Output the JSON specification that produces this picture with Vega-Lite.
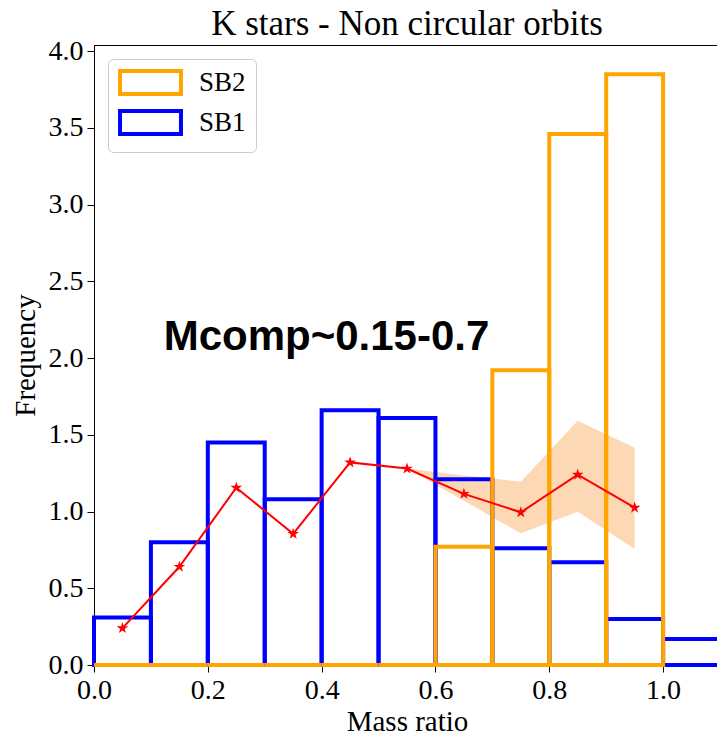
{
  "$schema": "https://vega.github.io/schema/vega-lite/v6.json",
  "autosize": {"type": "none"},
  "padding": {"left": 94, "top": 45, "right": 0, "bottom": 70},
  "width": 626,
  "height": 620,
  "background": "white",
  "title": {"text": "K stars - Non circular orbits", "font": "Liberation Serif", "fontSize": 35, "fontWeight": "normal", "color": "black", "anchor": "middle", "offset": -5},
  "config": {
    "view": {"stroke": "black", "strokeWidth": 1},
    "axis": {"labelFont": "Liberation Serif", "labelFontSize": 28, "labelColor": "black", "titleFont": "Liberation Serif", "titleFontSize": 29, "titleFontWeight": "normal", "titleColor": "black", "domainColor": "black", "tickColor": "black", "tickSize": 7, "grid": false, "labelPadding": 4, "labelFlush": false}
  },
  "datasets": {
    "hist": [
      {"series": "SB1", "x0": 0.0, "x1": 0.1, "freq": 0.31},
      {"series": "SB1", "x0": 0.1, "x1": 0.2, "freq": 0.80},
      {"series": "SB1", "x0": 0.2, "x1": 0.3, "freq": 1.45},
      {"series": "SB1", "x0": 0.3, "x1": 0.4, "freq": 1.08},
      {"series": "SB1", "x0": 0.4, "x1": 0.5, "freq": 1.66},
      {"series": "SB1", "x0": 0.5, "x1": 0.6, "freq": 1.61},
      {"series": "SB1", "x0": 0.6, "x1": 0.7, "freq": 1.21},
      {"series": "SB1", "x0": 0.7, "x1": 0.8, "freq": 0.76},
      {"series": "SB1", "x0": 0.8, "x1": 0.9, "freq": 0.67},
      {"series": "SB1", "x0": 0.9, "x1": 1.0, "freq": 0.30},
      {"series": "SB1", "x0": 1.0, "x1": 1.1, "freq": 0.17},
      {"series": "SB2", "x0": 0.0, "x1": 0.1, "freq": 0},
      {"series": "SB2", "x0": 0.1, "x1": 0.2, "freq": 0},
      {"series": "SB2", "x0": 0.2, "x1": 0.3, "freq": 0},
      {"series": "SB2", "x0": 0.3, "x1": 0.4, "freq": 0},
      {"series": "SB2", "x0": 0.4, "x1": 0.5, "freq": 0},
      {"series": "SB2", "x0": 0.5, "x1": 0.6, "freq": 0},
      {"series": "SB2", "x0": 0.6, "x1": 0.7, "freq": 0.77},
      {"series": "SB2", "x0": 0.7, "x1": 0.8, "freq": 1.92},
      {"series": "SB2", "x0": 0.8, "x1": 0.9, "freq": 3.46},
      {"series": "SB2", "x0": 0.9, "x1": 1.0, "freq": 3.85}
    ],
    "model": [
      {"q": 0.05, "f": 0.24},
      {"q": 0.15, "f": 0.64},
      {"q": 0.25, "f": 1.155},
      {"q": 0.35, "f": 0.855},
      {"q": 0.45, "f": 1.32},
      {"q": 0.55, "f": 1.28},
      {"q": 0.65, "f": 1.115},
      {"q": 0.75, "f": 0.995},
      {"q": 0.85, "f": 1.24},
      {"q": 0.95, "f": 1.025}
    ],
    "band": [
      {"q": 0.55, "lo": 1.28, "hi": 1.28},
      {"q": 0.65, "lo": 1.07, "hi": 1.235},
      {"q": 0.75, "lo": 0.858, "hi": 1.194},
      {"q": 0.85, "lo": 0.999, "hi": 1.592},
      {"q": 0.95, "lo": 0.756, "hi": 1.416}
    ],
    "note": [{"q": 0.4086, "f": 2.052, "label": "Mcomp~0.15-0.7"}]
  },
  "layer": [
    {
      "data": {"name": "band"},
      "mark": {"type": "area", "color": "#fdd8b4", "opacity": 1},
      "encoding": {
        "x": {"field": "q", "type": "quantitative", "scale": {"domain": [0, 1.1], "nice": false, "zero": false}, "axis": {"values": [0, 0.2, 0.4, 0.6, 0.8, 1.0], "format": ".1f", "title": "Mass ratio", "titlePadding": 3}},
        "y": {"field": "lo", "type": "quantitative", "scale": {"domain": [0, 4.04], "nice": false}, "axis": {"values": [0, 0.5, 1, 1.5, 2, 2.5, 3, 3.5, 4], "format": ".1f", "title": "Frequency", "titlePadding": 8}},
        "y2": {"field": "hi"}
      }
    },
    {
      "data": {"name": "hist"},
      "mark": {"type": "bar", "fill": "transparent", "strokeWidth": 4, "strokeJoin": "miter"},
      "encoding": {
        "x": {"field": "x0", "type": "quantitative"},
        "x2": {"field": "x1"},
        "y": {"field": "freq", "type": "quantitative"},
        "y2": {"datum": 0},
        "stroke": {
          "field": "series", "type": "nominal",
          "scale": {"domain": ["SB2", "SB1"], "range": ["#ffa500", "#0000ff"]},
          "legend": {
            "title": null, "orient": "none", "legendX": 14, "legendY": 14,
            "fillColor": "white", "strokeColor": "#cccccc", "cornerRadius": 5, "padding": 10,
            "labelFont": "Liberation Serif", "labelFontSize": 27, "labelColor": "black",
            "symbolType": "M-2.65,-1H2.65V1H-2.65Z", "symbolSize": 529, "symbolStrokeWidth": 4,
            "symbolFillColor": "transparent", "symbolOffset": 19, "labelOffset": 35, "rowPadding": 1
          }
        }
      }
    },
    {
      "data": {"name": "model"},
      "mark": {"type": "line", "color": "#ff0000", "strokeWidth": 2},
      "encoding": {
        "x": {"field": "q", "type": "quantitative"},
        "y": {"field": "f", "type": "quantitative"}
      }
    },
    {
      "data": {"name": "model"},
      "mark": {"type": "point", "filled": true, "color": "#ff0000", "opacity": 1, "size": 150, "shape": "M0,-1L0.2245,-0.309L0.951,-0.309L0.363,0.118L0.588,0.809L0,0.382L-0.588,0.809L-0.363,0.118L-0.951,-0.309L-0.2245,-0.309Z"},
      "encoding": {
        "x": {"field": "q", "type": "quantitative"},
        "y": {"field": "f", "type": "quantitative"}
      }
    },
    {
      "data": {"name": "note"},
      "mark": {"type": "text", "font": "Liberation Sans", "fontSize": 42, "fontWeight": "bold", "align": "center", "baseline": "alphabetic", "color": "black"},
      "encoding": {
        "x": {"field": "q", "type": "quantitative"},
        "y": {"field": "f", "type": "quantitative"},
        "text": {"field": "label"}
      }
    }
  ]
}
